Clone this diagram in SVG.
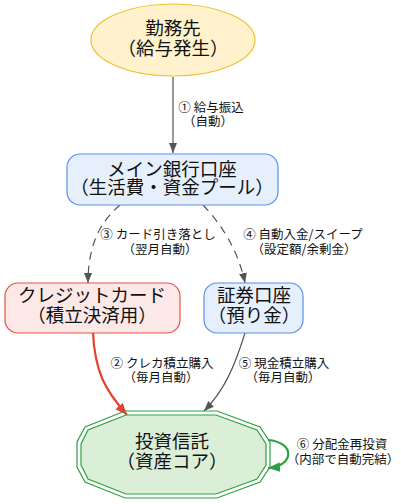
<svg xmlns="http://www.w3.org/2000/svg" width="401" height="504" viewBox="0 0 401 504">
<defs>
<style>
.nt{font-family:"Noto Sans CJK JP","Noto Sans",sans-serif;font-size:18.5px;fill:#111;text-anchor:middle}
.et{font-family:"Noto Sans CJK JP","Noto Sans",sans-serif;font-size:12.5px;fill:#111;text-anchor:middle}
.gray{fill:none;stroke:#555;stroke-width:1.2}
.dash{fill:none;stroke:#555;stroke-width:1.2;stroke-dasharray:8,6}
</style>
<marker id="ag" viewBox="0 0 10 10" refX="10" refY="5" markerWidth="10" markerHeight="10" markerUnits="userSpaceOnUse" orient="auto"><path d="M0,1 L10,5 L0,9 z" fill="#555"/></marker>
<marker id="ar" viewBox="0 0 10 10" refX="10" refY="5" markerWidth="12" markerHeight="12" markerUnits="userSpaceOnUse" orient="auto"><path d="M0,1 L10,5 L0,9 z" fill="#e8402f"/></marker>
<marker id="agr" viewBox="0 0 10 10" refX="10" refY="5" markerWidth="12" markerHeight="12" markerUnits="userSpaceOnUse" orient="auto"><path d="M0,1 L10,5 L0,9 z" fill="#2ea043"/></marker>
</defs>
<rect width="401" height="504" fill="#fff"/>
<g id="connectors">
<path class="gray" d="M173,77 L173,153" marker-end="url(#ag)"/>
<text class="et"><tspan x="211" y="112">①  給与振込</tspan><tspan x="208" y="126">（自動）</tspan></text>
<path class="dash" d="M120,205 C100,222 88,245 88,283" marker-end="url(#ag)"/>
<text class="et"><tspan x="158" y="239">③  カード引き落とし</tspan><tspan x="160" y="254">（翌月自動）</tspan></text>
<path class="dash" d="M203,205 C222,225 238,250 245,283" marker-end="url(#ag)"/>
<text class="et"><tspan x="303" y="239">④  自動入金/スイープ</tspan><tspan x="304" y="254">（設定額/余剰金）</tspan></text>
<path d="M93,333 C95,372 105,390 127,415" fill="none" stroke="#e8402f" stroke-width="2.2" marker-end="url(#ar)"/>
<text class="et"><tspan x="162" y="368">②  クレカ積立購入</tspan><tspan x="161" y="382">（毎月自動）</tspan></text>
<path class="gray" d="M245,333 C235,365 225,390 204,411" marker-end="url(#ag)"/>
<text class="et"><tspan x="284" y="368">⑤  現金積立購入</tspan><tspan x="283" y="382">（毎月自動）</tspan></text>
<path d="M268,440 C295,442 295,466 268,468" fill="none" stroke="#2ea043" stroke-width="2.2" marker-end="url(#agr)"/>
<text class="et"><tspan x="342" y="449">⑥  分配金再投資</tspan><tspan x="343" y="464">（内部で自動完結）</tspan></text>
</g>
<g id="employer">
<ellipse cx="173" cy="40" rx="82" ry="36" fill="#fff2cc" stroke="#f0c036" stroke-width="1.2"/>
<text class="nt"><tspan x="173" y="35">勤務先</tspan><tspan x="173" y="55">（給与発生）</tspan></text>
</g>
<g id="bank">
<rect x="67" y="154" width="211" height="51" rx="13" fill="#e6effc" stroke="#5b8ff0" stroke-width="1.2"/>
<text class="nt"><tspan x="172" y="176">メイン銀行口座</tspan><tspan x="172" y="194">（生活費・資金プール）</tspan></text>
</g>
<g id="card">
<rect x="5" y="283" width="175" height="50" rx="13" fill="#fde8e8" stroke="#e8534a" stroke-width="1.2"/>
<text class="nt"><tspan x="92" y="302">クレジットカード</tspan><tspan x="92" y="322">（積立決済用）</tspan></text>
</g>
<g id="securities">
<rect x="204" y="283" width="99" height="50" rx="13" fill="#e6effc" stroke="#5b8ff0" stroke-width="1.2"/>
<text class="nt"><tspan x="254" y="302">証券口座</tspan><tspan x="254" y="322">（預り金）</tspan></text>
</g>
<g id="fund">
<polygon points="125,411 217,411 260,427 270,442 270,467 260,482 217,498 125,498 85,482 77,467 77,442 85,427" fill="none" stroke="#2ea043" stroke-width="1.2"/>
<polygon points="126,415 216,415 257,430 266,444 266,465 257,479 216,494 126,494 88,479 81,465 81,444 88,430" fill="#dbeed8" stroke="#2ea043" stroke-width="1.2"/>
<text class="nt"><tspan x="172" y="448">投資信託</tspan><tspan x="172" y="468">（資産コア）</tspan></text>
</g>
</svg>
